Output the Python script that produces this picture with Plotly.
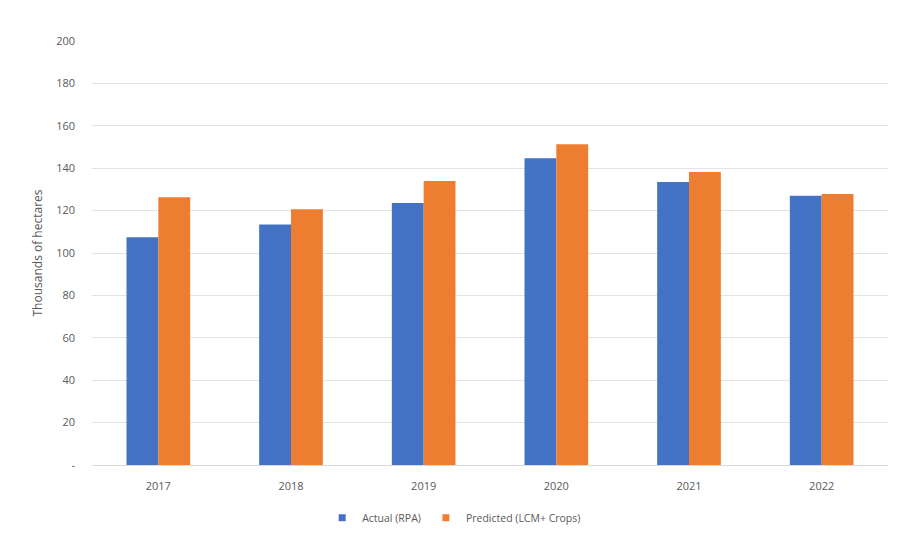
import plotly.graph_objects as go

years = ["2017", "2018", "2019", "2020", "2021", "2022"]
actual_rpa = [107.4, 113.4, 123.6, 144.7, 133.5, 127.0]
predicted_lcm = [126.3, 120.6, 134.0, 151.3, 138.2, 127.8]
y_ticks = [0, 20, 40, 60, 80, 100, 120, 140, 160, 180, 200]
y_ticktext = ["-", "20", "40", "60", "80", "100", "120", "140", "160", "180", "200"]

font_family = "Open Sans, Liberation Sans, sans-serif"
text_color = "#595959"
blue = "#4472C4"
orange = "#ED7D31"

fig = go.Figure()
fig.add_trace(go.Bar(x=years, y=actual_rpa, name="Actual (RPA)", marker_color=blue,
                     marker_line_width=0, showlegend=False))
fig.add_trace(go.Bar(x=years, y=predicted_lcm, name="Predicted (LCM+ Crops)", marker_color=orange,
                     marker_line_width=0, showlegend=False))
# legend entries with small square markers
fig.add_trace(go.Scatter(x=[None], y=[None], mode="markers", name="Actual (RPA)",
                         marker=dict(symbol="square", size=7, color=blue)))
fig.add_trace(go.Scatter(x=[None], y=[None], mode="markers", name="Predicted (LCM+ Crops)",
                         marker=dict(symbol="square", size=7, color=orange)))

fig.update_layout(
    width=910, height=536,
    margin=dict(l=92, r=22, t=41, b=71, autoexpand=False),
    paper_bgcolor="white", plot_bgcolor="white",
    barmode="group", bargap=0.52, bargroupgap=0,
    font=dict(family=font_family, size=11, color=text_color),
    showlegend=True,
    legend=dict(orientation="h", x=0.455, xanchor="center", y=-0.09, yanchor="top",
                font=dict(size=10.5, color=text_color), itemwidth=30, traceorder="normal",
                tracegroupgap=0),
    xaxis=dict(showgrid=False, showline=True, linecolor="#d9d9d9", linewidth=1,
               ticks="", tickfont=dict(size=11, color=text_color), ticklabelstandoff=11,
               automargin=False),
    yaxis=dict(range=[0, 200], tickvals=y_ticks, ticktext=y_ticktext,
               showgrid=True, gridcolor="#e3e3e3", gridwidth=1, zeroline=False,
               showline=False, ticks="", ticklabelstandoff=16, automargin=False,
               tickfont=dict(size=11, color=text_color),
               title=dict(text="Thousands of hectares", font=dict(size=12, color=text_color), standoff=10)),
)

fig.write_html("out.html", config={"displayModeBar": False},
               post_script="document.body.style.margin='0';")
